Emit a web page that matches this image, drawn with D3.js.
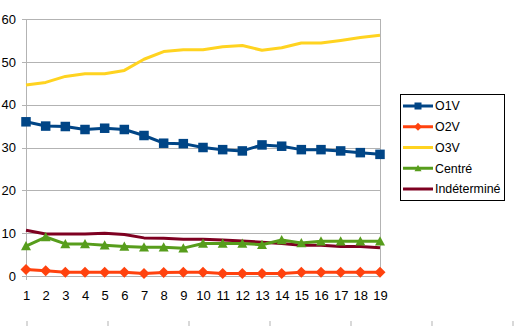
<!DOCTYPE html>
<html>
<head>
<meta charset="utf-8">
<script src="https://cdn.jsdelivr.net/npm/d3@7/dist/d3.min.js"></script>
<style>
  html, body { margin: 0; padding: 0; background: #fff; }
  svg { display: block; font-family: "Liberation Sans", Arial, sans-serif; }
</style>
</head>
<body>
<svg id="chart" width="516" height="326"></svg>
<script>
// Categories along the x axis
const categories = d3.range(1, 20);

// Series values
const o1v = [36.0, 35.0, 34.9, 34.2, 34.5, 34.2, 32.8, 31.0, 30.9, 30.0, 29.5, 29.2, 30.6, 30.3, 29.5, 29.5, 29.2, 28.8, 28.4];
const o2v = [1.5, 1.2, 0.9, 0.9, 0.9, 0.9, 0.6, 0.8, 0.9, 0.9, 0.6, 0.6, 0.6, 0.6, 0.9, 0.9, 0.9, 0.9, 0.9];
const o3v = [44.6, 45.2, 46.6, 47.2, 47.2, 48.0, 50.6, 52.4, 52.8, 52.8, 53.5, 53.8, 52.7, 53.3, 54.4, 54.4, 55.0, 55.7, 56.2];
const centre = [7.0, 9.1, 7.5, 7.5, 7.2, 6.9, 6.7, 6.7, 6.5, 7.6, 7.6, 7.6, 7.3, 8.4, 7.7, 8.1, 8.1, 8.1, 8.1];
const indetermine = [10.7, 9.8, 9.8, 9.8, 10.0, 9.7, 8.9, 8.8, 8.6, 8.6, 8.4, 8.2, 7.9, 7.6, 7.2, 7.2, 6.9, 6.9, 6.6];

// Axis ticks
const yTicks = [0, 10, 20, 30, 40, 50, 60];
const seriesNames = ["O1V", "O2V", "O3V", "Centré", "Indéterminé"];

const series = [
  { name: seriesNames[0], values: o1v, color: "#004586", marker: "square" },
  { name: seriesNames[1], values: o2v, color: "#ff420e", marker: "diamond" },
  { name: seriesNames[2], values: o3v, color: "#ffd320", marker: null },
  { name: seriesNames[3], values: centre, color: "#579d1c", marker: "triangle" },
  { name: seriesNames[4], values: indetermine, color: "#7e0021", marker: null }
];

const svg = d3.select("#chart");
const grid = "#b3b3b3";
const fontSize = 13;
const legendFontSize = 12.4;

const x = d3.scalePoint().domain(categories).range([26, 380]);
const y = d3.scaleLinear().domain([0, 60]).range([276, 19]);

// Horizontal gridlines
svg.append("g")
  .selectAll("line")
  .data(yTicks)
  .join("line")
  .attr("x1", 22).attr("x2", 380)
  .attr("y1", d => Math.round(y(d)) + 0.5)
  .attr("y2", d => Math.round(y(d)) + 0.5)
  .attr("stroke", grid)
  .attr("stroke-width", 1);

// Left axis line and right plot border
svg.append("line")
  .attr("x1", 26.5).attr("x2", 26.5).attr("y1", 19).attr("y2", 280)
  .attr("stroke", grid);
svg.append("line")
  .attr("x1", 380.5).attr("x2", 380.5).attr("y1", 19).attr("y2", 277)
  .attr("stroke", grid);

// Y axis labels
const yAxis = d3.axisLeft(y).tickValues(yTicks).tickSize(0).tickPadding(10);
const gy = svg.append("g").attr("transform", "translate(26,0)").call(yAxis);
gy.select(".domain").remove();
gy.selectAll("text")
  .attr("font-size", fontSize)
  .attr("font-family", "Liberation Sans, Arial, sans-serif")
  .attr("fill", "#000");

// X axis labels
const xAxis = d3.axisBottom(x).tickSize(0).tickPadding(15);
const gx = svg.append("g").attr("transform", "translate(0,276)").call(xAxis);
gx.select(".domain").remove();
gx.selectAll("text")
  .attr("font-size", fontSize)
  .attr("font-family", "Liberation Sans, Arial, sans-serif")
  .attr("fill", "#000");

// Secondary bottom axis ticks
const x2 = d3.scaleLinear().domain([0, 6]).range([26.5, 512.5]);
const gx2 = svg.append("g").attr("transform", "translate(0,321)")
  .call(d3.axisBottom(x2).ticks(6).tickSize(5).tickFormat(""));
gx2.select(".domain").remove();
gx2.selectAll("line").attr("stroke", grid);

// Series lines
const line = d3.line()
  .x((d, i) => x(categories[i]))
  .y(d => y(d));

function drawMarker(g, type, color, size) {
  if (type === "square") {
    g.append("rect")
      .attr("x", -size / 2).attr("y", -size / 2)
      .attr("width", size).attr("height", size)
      .attr("fill", color);
  } else if (type === "diamond") {
    const s = size / 2 + 0.5;
    g.append("path")
      .attr("d", `M0,${-s}L${s},0L0,${s}L${-s},0Z`)
      .attr("fill", color);
  } else if (type === "triangle") {
    const s = size / 2;
    g.append("path")
      .attr("d", `M0,${-s}L${s},${s * 0.85}L${-s},${s * 0.85}Z`)
      .attr("fill", color);
  }
}

// Draw in back-to-front order
const order = [4, 3, 2, 1, 0];
order.forEach(k => {
  const s = series[k];
  svg.append("path")
    .datum(s.values)
    .attr("d", line)
    .attr("fill", "none")
    .attr("stroke", s.color)
    .attr("stroke-width", 3)
    .attr("stroke-linejoin", "round");
  if (s.marker) {
    s.values.forEach((v, i) => {
      const g = svg.append("g").attr("transform", `translate(${x(categories[i])},${y(v)})`);
      drawMarker(g, s.marker, s.color, s.marker === "square" ? 9.5 : 10);
    });
  }
});

// Legend
const legend = svg.append("g");
legend.append("rect")
  .attr("x", 400.5).attr("y", 94.5)
  .attr("width", 104).attr("height", 106)
  .attr("fill", "#fff").attr("stroke", "#000");

const ly = d3.scalePoint().domain(seriesNames).range([106, 189]);
series.forEach(s => {
  const cy = ly(s.name);
  legend.append("line")
    .attr("x1", 403).attr("x2", 433)
    .attr("y1", cy).attr("y2", cy)
    .attr("stroke", s.color).attr("stroke-width", 3);
  if (s.marker) {
    const g = legend.append("g").attr("transform", `translate(418,${cy})`);
    drawMarker(g, s.marker, s.color, 7);
  }
  legend.append("text")
    .attr("x", 435).attr("y", cy)
    .attr("dy", "0.35em")
    .attr("font-size", legendFontSize)
    .attr("fill", "#000")
    .text(s.name);
});
</script>
</body>
</html>
